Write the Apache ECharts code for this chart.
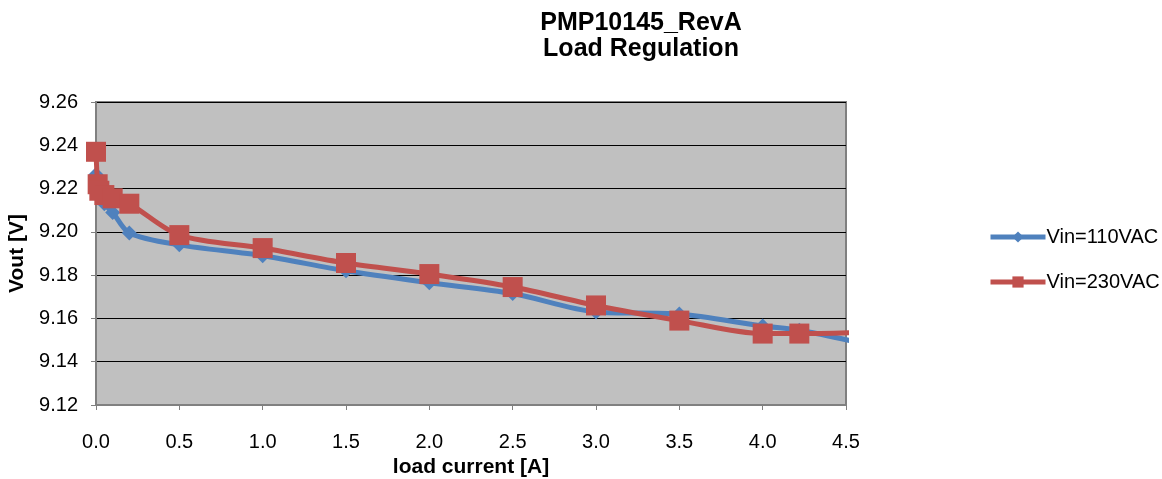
<!DOCTYPE html>
<html>
<head>
<meta charset="utf-8">
<script src="https://cdn.jsdelivr.net/npm/echarts@6/dist/echarts.min.js"></script>
<style>html,body{margin:0;padding:0;background:#fff}#c{width:1162px;height:479px}</style>
</head>
<body>
<div id="c"></div>
<script>
const titleText = 'PMP10145_RevA\nLoad Regulation';
const xName = 'load current [A]';
const yName = 'Vout [V]';
const seriesNames = ['Vin=110VAC', 'Vin=230VAC'];
const current110 = [0, 0.01, 0.02, 0.05, 0.1, 0.2, 0.5, 1.0, 1.5, 2.0, 2.5, 3.0, 3.5, 4.0, 4.22, 4.75];
const vout110 = [9.2265, 9.221, 9.218, 9.213, 9.209, 9.1995, 9.194, 9.189, 9.182, 9.1765, 9.1715, 9.163, 9.162, 9.1565, 9.1545, 9.146];
const current230 = [0, 0.01, 0.02, 0.05, 0.1, 0.2, 0.5, 1.0, 1.5, 2.0, 2.5, 3.0, 3.5, 4.0, 4.22, 4.75];
const vout230 = [9.237, 9.222, 9.219, 9.217, 9.2155, 9.213, 9.1985, 9.1925, 9.1856, 9.1805, 9.1745, 9.166, 9.159, 9.153, 9.153, 9.154];
const xTicks = {min: 0, max: 4.5, interval: 0.5};
const yTicks = {min: 9.12, max: 9.26, interval: 0.02};

const pair = (xs, ys) => xs.map((x, i) => [x, ys[i]]);
const chart = echarts.init(document.getElementById('c'));
const font = 'Liberation Sans, Arial, sans-serif';
chart.setOption({
  animation: false,
  title: {text: titleText, left: 636, textAlign: 'center', top: 5,
    textStyle: {fontFamily: font, fontSize: 25, fontWeight: 'bold', color: '#000', lineHeight: 26}},
  legend: {orient: 'vertical', left: 983, top: 222, itemGap: 25, itemWidth: 55, itemHeight: 14,
    lineStyle: {width: 5},
    textStyle: {fontFamily: font, fontSize: 20, color: '#000', padding: [0,0,0,-4]},
    data: seriesNames},
  grid: {left: 96, top: 102, width: 750, height: 303, show: true, backgroundColor: '#C0C0C0',
    borderWidth: 2, borderColor: '#808080', containLabel: false, outerBoundsMode: 'none'},
  xAxis: {type: 'value', min: xTicks.min, max: xTicks.max, interval: xTicks.interval,
    name: xName, nameLocation: 'middle', nameGap: 51,
    nameTextStyle: {fontFamily: font, fontSize: 21, fontWeight: 'bold', color: '#000'},
    axisLine: {show: true, onZero: false, lineStyle: {color: '#808080', width: 2}},
    axisTick: {show: true, inside: false, length: 5, lineStyle: {color: '#808080'}},
    axisLabel: {fontFamily: font, fontSize: 20, color: '#000', margin: 27, formatter: v => v.toFixed(1)},
    splitLine: {show: false}},
  yAxis: {type: 'value', min: yTicks.min, max: yTicks.max, interval: yTicks.interval,
    name: yName, nameLocation: 'middle', nameGap: 67,
    nameTextStyle: {fontFamily: font, fontSize: 21, fontWeight: 'bold', color: '#000'},
    axisLine: {show: true, lineStyle: {color: '#808080', width: 2}},
    axisTick: {show: true, inside: false, length: 5, lineStyle: {color: '#808080'}},
    axisLabel: {fontFamily: font, fontSize: 20, color: '#000', margin: 18, formatter: v => v.toFixed(2)},
    splitLine: {show: true, lineStyle: {color: '#000', width: 1}}},
  series: [
    {name: seriesNames[0], type: 'line', data: pair(current110, vout110), smooth: 0.3, clip: true,
      symbol: 'diamond', symbolSize: 15, lineStyle: {color: '#4F81BD', width: 5},
      itemStyle: {color: '#4F81BD'}, z: 2},
    {name: seriesNames[1], type: 'line', data: pair(current230, vout230), smooth: 0.3, clip: true,
      symbol: 'rect', symbolSize: 20, lineStyle: {color: '#C0504D', width: 5},
      itemStyle: {color: '#C0504D'}, z: 3}
  ]
});
</script>
</body>
</html>
